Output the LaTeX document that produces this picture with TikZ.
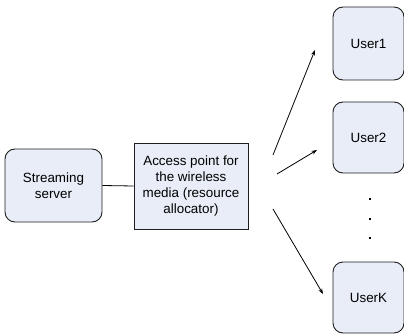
\documentclass[tikz,border=0pt]{standalone}
\usepackage{fontspec}
\setmainfont{Liberation Sans}
\usetikzlibrary{arrows.meta}
\definecolor{boxfill}{RGB}{232,237,248}
\definecolor{boxline}{RGB}{30,30,30}
\begin{document}
\begin{tikzpicture}[x=1pt,y=-1pt,
  font=\fontsize{13.4}{16}\selectfont,
  plainbox/.style={draw=boxline,line width=0.9pt,fill=boxfill,align=center,inner sep=0pt},
  roundbox/.style={plainbox,rounded corners=10pt},
  link/.style={line width=0.8pt,black},
  arr/.style={link,-{Stealth[length=5.5pt,width=4pt]}},
  dot/.style={fill=black,minimum size=2pt,inner sep=0pt}]
\useasboundingbox (0,0) rectangle (404,334);
% source and access point
\node[roundbox,minimum width=97pt,minimum height=73pt] (srv) at (53.5,185.5) {Streaming\\server};
\node[plainbox,minimum width=114pt,minimum height=86pt] (ap) at (191,186) {Access point for\\the wireless\\media (resource\\allocator)};
\draw[link] (srv.east) -- (ap.west);
% users
\node[roundbox,minimum width=71pt,minimum height=73pt] (u1) at (368.5,43.5) {User1};
\node[roundbox,minimum width=71pt,minimum height=71pt] (u2) at (368.5,137.5) {User2};
\node[roundbox,minimum width=71pt,minimum height=71pt] (uk) at (368.5,297.5) {UserK};
% ellipsis between User2 and UserK
\node[dot] (d1) at (370,199) {};
\node[dot] (d2) at (370,219) {};
\node[dot] (d3) at (370,238) {};
% wireless links
\coordinate (a1s) at (273,155);
\coordinate (a1e) at (315,50);
\coordinate (a2s) at (277,174);
\coordinate (a2e) at (317,150);
\coordinate (a3s) at (273,209);
\coordinate (a3e) at (323,294);
\draw[arr] (a1s) -- (a1e);
\draw[arr] (a2s) -- (a2e);
\draw[arr] (a3s) -- (a3e);
\end{tikzpicture}
\end{document}
